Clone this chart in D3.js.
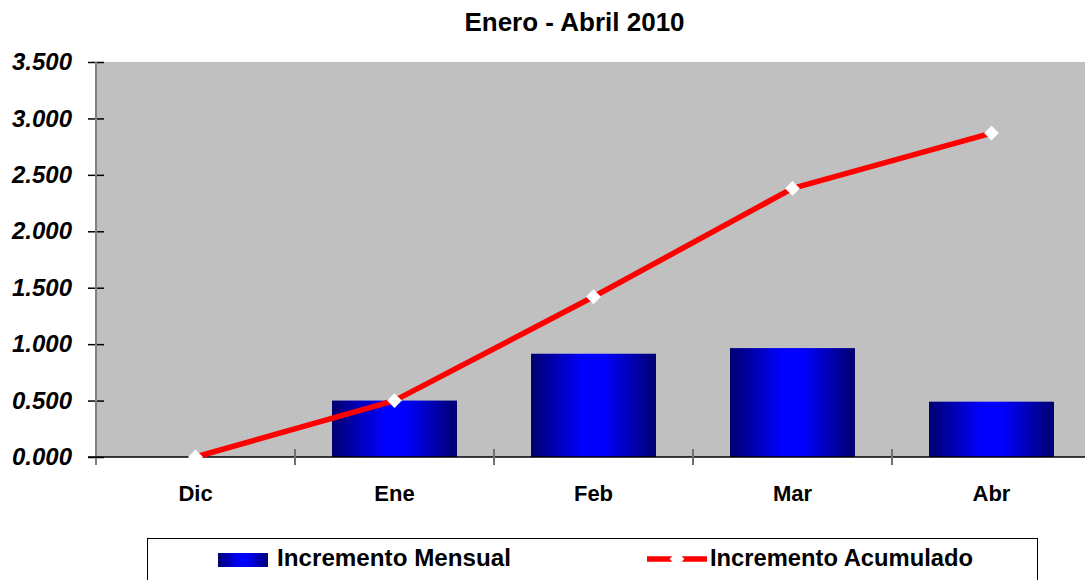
<!DOCTYPE html>
<html><head><meta charset="utf-8">
<script src="https://cdn.jsdelivr.net/npm/d3@7"></script>
<style>html,body{margin:0;padding:0;background:#fff;overflow:hidden}svg{display:block;font-family:"Liberation Sans",Arial,sans-serif}</style>
</head><body>
<script>
const title = "Enero - Abril 2010";
const categories = ["Dic", "Ene", "Feb", "Mar", "Abr"];
const mensual = [null, 0.50, 0.915, 0.965, 0.49];
const acumulado = [0, 0.50, 1.42, 2.38, 2.87];
const yTicks = [0, 0.5, 1, 1.5, 2, 2.5, 3, 3.5];
const seriesNames = ["Incremento Mensual", "Incremento Acumulado"];

const W = 1085, H = 580;
const L = 96, R = 1091, T = 62, B = 457;
const svg = d3.select("body").append("svg").attr("width", W).attr("height", H);

const defs = svg.append("defs");
const g = defs.append("linearGradient").attr("id", "barGrad").attr("x1", "0").attr("x2", "1").attr("y1", "0").attr("y2", "0");
[[0, "#000070"], [0.42, "#0000ff"], [0.58, "#0000ff"], [1, "#000070"]].forEach(([o, c]) =>
  g.append("stop").attr("offset", o).attr("stop-color", c));

const x = d3.scaleBand().domain(categories).range([L, R]).padding(0);
const y = d3.scaleLinear().domain([0, 3.5]).range([B, T]);

// plot background
svg.append("rect").attr("x", L).attr("y", T).attr("width", R - L).attr("height", B - T).attr("fill", "#c0c0c0");

// title
svg.append("text").attr("x", 574.5).attr("y", 31).attr("text-anchor", "middle")
  .attr("font-size", 26).attr("font-weight", "bold").text(title);

// bars
const bw = x.bandwidth() * 0.628;
svg.append("g").selectAll("rect").data(categories.map((c, i) => ({c, v: mensual[i]})).filter(d => d.v != null))
  .join("rect")
  .attr("x", d => x(d.c) + x.bandwidth() / 2 - bw / 2)
  .attr("y", d => y(d.v))
  .attr("width", bw)
  .attr("height", d => y(0) - y(d.v))
  .attr("fill", "url(#barGrad)");

// y axis
const yAxis = d3.axisLeft(y).tickValues(yTicks).tickSizeInner(8).tickSizeOuter(0)
  .tickFormat(d => d3.format(".3f")(d));
const ya = svg.append("g").attr("transform", `translate(${L},0)`).call(yAxis);
ya.select(".domain").remove();
ya.selectAll(".tick line").attr("x1", -8).attr("x2", 8).attr("stroke", "#000").attr("stroke-width", 1.5);
ya.selectAll(".tick text").attr("x", -24).attr("font-size", 24).attr("font-weight", "bold")
  .attr("font-style", "italic").attr("font-family", "Liberation Sans, Arial, sans-serif").attr("fill", "#000");
svg.append("line").attr("x1", L).attr("x2", L).attr("y1", T).attr("y2", B + 8)
  .attr("stroke", "#808080").attr("stroke-width", 2);

// x axis
svg.append("line").attr("x1", L - 8).attr("x2", W).attr("y1", B).attr("y2", B).attr("stroke", "#000").attr("stroke-width", 1.5);
const bounds = categories.map(c => x(c)).slice(1);
svg.append("g").selectAll("line").data(bounds).join("line")
  .attr("x1", d => d).attr("x2", d => d).attr("y1", B - 8).attr("y2", B + 8)
  .attr("stroke", "#707070").attr("stroke-width", 2);
svg.append("g").selectAll("text").data(categories).join("text")
  .attr("x", d => x(d) + x.bandwidth() / 2).attr("y", 501).attr("text-anchor", "middle")
  .attr("font-size", 22).attr("font-weight", "bold").text(d => d);

// line
const line = d3.line().x((d, i) => x(categories[i]) + x.bandwidth() / 2).y(d => y(d));
svg.append("path").datum(acumulado).attr("d", line).attr("fill", "none")
  .attr("stroke", "#ff0000").attr("stroke-width", 5.5).attr("stroke-linejoin", "round");
const diamond = d3.symbol().type(d3.symbolSquare).size(110);
svg.append("g").selectAll("path").data(acumulado).join("path")
  .attr("d", diamond())
  .attr("transform", (d, i) => `translate(${x(categories[i]) + x.bandwidth() / 2},${y(d)}) rotate(45)`)
  .attr("fill", "#fff");

// legend
svg.append("rect").attr("x", 147.5).attr("y", 538.5).attr("width", 890).attr("height", 60)
  .attr("fill", "#fff").attr("stroke", "#000").attr("stroke-width", 1);
svg.append("rect").attr("x", 218).attr("y", 553).attr("width", 50).attr("height", 14).attr("fill", "url(#barGrad)");
svg.append("text").attr("x", 277).attr("y", 566).attr("font-size", 23).attr("font-weight", "bold")
  .attr("textLength", 234).attr("lengthAdjust", "spacingAndGlyphs").text(seriesNames[0]);
svg.append("line").attr("x1", 647).attr("x2", 707).attr("y1", 559).attr("y2", 559)
  .attr("stroke", "#ff0000").attr("stroke-width", 5.5);
svg.append("path").attr("d", diamond()).attr("transform", "translate(677,559) rotate(45)").attr("fill", "#fff");
svg.append("text").attr("x", 710).attr("y", 566).attr("font-size", 23).attr("font-weight", "bold")
  .attr("textLength", 263).attr("lengthAdjust", "spacingAndGlyphs").text(seriesNames[1]);
</script>
</body></html>
